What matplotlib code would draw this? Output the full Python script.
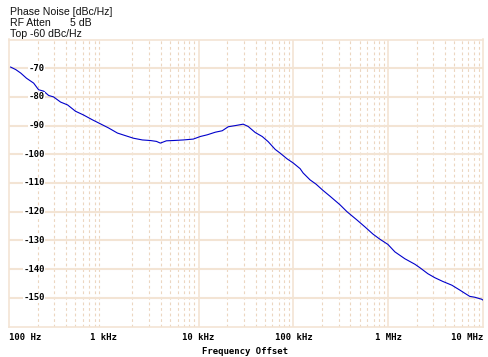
import numpy as np
import matplotlib
matplotlib.use("Agg")
from matplotlib import pyplot as plt

# offset frequency (Hz) and phase noise (dBc/Hz)
freq = [104, 118, 133, 153, 182, 205, 232, 262, 295, 350, 415, 503, 611, 760,
        923, 1120, 1393, 1690, 2055, 2553, 3100, 3590, 3950, 4570, 5420, 6900,
        8790, 10420, 12360, 15000, 17750, 20550, 24330, 29530, 33340, 39530,
        46880, 54200, 64300, 72500, 85900, 99300, 117700, 126600, 149700,
        173300, 205500, 243300, 310300, 367500, 468600, 568800, 690500,
        818500, 993000, 1177000, 1500000, 1910000, 2157000, 2618000, 3104000,
        3767000, 4689000, 5690000, 6416000, 7244000, 8184000, 9686000, 1.0e7]
noise = [-69.6, -70.5, -71.7, -73.5, -75.2, -77.5, -78.0, -79.5, -80.0, -81.8,
         -82.8, -85.0, -86.3, -88.0, -89.4, -90.8, -92.6, -93.5, -94.4, -95.0,
         -95.2, -95.5, -96.1, -95.3, -95.2, -95.0, -94.7, -93.8, -93.2, -92.3,
         -91.8, -90.4, -90.0, -89.5, -90.3, -92.4, -93.8, -95.6, -98.3, -99.6,
         -101.6, -103.0, -105.0, -106.5, -108.9, -110.4, -112.6, -114.6,
         -117.6, -120.0, -122.9, -125.3, -127.8, -129.6, -131.4, -134.0,
         -136.4, -138.3, -139.5, -141.6, -143.0, -144.3, -145.6, -147.3,
         -148.4, -149.5, -149.8, -150.5, -150.8]

y_ticks = [-70, -80, -90, -100, -110, -120, -130, -140, -150]
x_ticks = [100, 1e3, 1e4, 1e5, 1e6, 1e7]
x_labels = ["100 Hz", "1 kHz", "10 kHz", "100 kHz", "1 MHz", "10 MHz"]
header = ["Phase Noise [dBc/Hz]", "RF Atten", "Top -60 dBc/Hz"]

W, H = 489, 357
GRID = '#f3e4d4'
DASH = '#ecd6c0'
mono = dict(family='DejaVu Sans Mono', weight='bold', size=6.5)

fig = plt.figure(figsize=(W / 100, H / 100), dpi=100)
ax = fig.add_axes([9 / W, 1 - 326.5 / H, 474 / W, 287 / H])
ax.set_xscale('log')
ax.set_xlim(100, 1e7)
ax.set_ylim(-160, -60)

# grid: solid decades (no 1 kHz line on the instrument), dashed minors
for xv in [1e4, 1e5, 1e6]:
    ax.axvline(xv, color=GRID, lw=1.2, zorder=1)
for dec in [100, 1e3, 1e4, 1e5, 1e6]:
    for m in range(2, 10):
        ax.axvline(dec * m, color=DASH, lw=0.8, ls=(0, (2.5, 2.5)), zorder=1)
for yv in y_ticks:
    ax.axhline(yv, color=GRID, lw=1.5, zorder=1)

ax.plot(freq, noise, color='#0000cc', lw=0.8, zorder=3)

ax.set_xticks([])
ax.set_yticks([])
ax.minorticks_off()
for s in ax.spines.values():
    s.set_color(GRID)
    s.set_linewidth(1.2)

# y labels sit inside the plot
for yv in y_ticks:
    ax.text((45 - 9) / 474, yv, f"{yv}", transform=ax.get_yaxis_transform(),
            ha='right', va='center', zorder=4,
            bbox=dict(facecolor='white', edgecolor='none', pad=0.3), **mono)

# x labels
for xv, lab in zip(x_ticks, x_labels):
    ha = 'center'
    if xv == x_ticks[0]:
        ha = 'left'
    elif xv == x_ticks[-1]:
        ha = 'right'
    xf = fig.transFigure.inverted().transform(ax.transData.transform((xv, -160)))[0]
    fig.text(xf, 1 - 340.5 / H, lab, ha=ha, va='baseline', **mono)

fig.text(245 / W, 1 - 354.5 / H, "Frequency Offset", ha='center', va='baseline', **mono)

# header block
sans = dict(family='Liberation Sans', size=7.6, color='#111111')
fig.text(10 / W, 1 - 15.3 / H, header[0], ha='left', va='baseline', **sans)
fig.text(10 / W, 1 - 26 / H, header[1], ha='left', va='baseline', **sans)
fig.text(70 / W, 1 - 26 / H, "5 dB", ha='left', va='baseline', **sans)
fig.text(10 / W, 1 - 36.7 / H, header[2], ha='left', va='baseline', **sans)

fig.savefig('out.png', dpi=100)
